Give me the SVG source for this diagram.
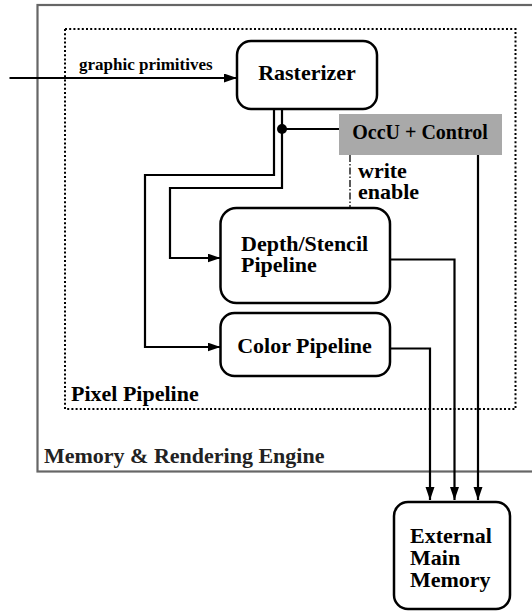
<svg xmlns="http://www.w3.org/2000/svg" width="532" height="612" viewBox="0 0 532 612">
  <style>
    .box { fill: #fff; stroke: #000; stroke-width: 2.5; }
    .lbl { font-family: "Liberation Serif", Tinos, "Times New Roman", Times, "DejaVu Serif", serif; font-weight: bold; font-size: 22px; fill: #000; }
    .small { font-size: 17px; }
    .occ { font-size: 20px; }
    .wire { fill: none; stroke: #000; stroke-width: 2.2; }
  </style>
  <defs>
    <marker id="arrow" markerUnits="userSpaceOnUse" markerWidth="14" markerHeight="10" refX="13" refY="4.5" orient="auto">
      <path d="M0,0 L13,4.5 L0,9 z" fill="#000"/>
    </marker>
  </defs>

  <rect width="532" height="612" fill="#fff"/>

  <!-- enclosing engine -->
  <g id="engine">
    <rect x="37.5" y="5" width="510" height="466.5" fill="none" stroke="#666" stroke-width="2.2"/>
    <text class="lbl" x="44" y="463" style="fill:#222">Memory &amp; Rendering Engine</text>
  </g>

  <!-- pixel pipeline region -->
  <g id="pixel-pipeline">
    <rect x="65" y="29" width="450.5" height="380" fill="none" stroke="#000" stroke-width="2" stroke-dasharray="2 2.2"/>
    <text class="lbl" x="71" y="400.5">Pixel Pipeline</text>
  </g>

  <!-- connectors -->
  <g id="connectors">
    <path class="wire" d="M9.5 78 H237" marker-end="url(#arrow)"/>
    <text class="lbl small" x="79" y="70">graphic primitives</text>
    <path class="wire" d="M274 109 V175 H145 V347 H220.5" marker-end="url(#arrow)"/>
    <path class="wire" d="M282 109 V188 H170 V258 H220.5" marker-end="url(#arrow)"/>
    <path class="wire" d="M282 129 H339"/>
    <circle cx="282" cy="129" r="5" fill="#000"/>
    <path d="M350 155 V208" fill="none" stroke="#000" stroke-width="1.3" stroke-dasharray="7 2 1.5 2"/>
    <text class="lbl" x="358" y="178">write</text>
    <text class="lbl" x="358" y="199">enable</text>
    <path class="wire" d="M478 155 V500" marker-end="url(#arrow)"/>
    <path class="wire" d="M390 259.5 H454.5 V500" marker-end="url(#arrow)"/>
    <path class="wire" d="M390 348.5 H430 V500" marker-end="url(#arrow)"/>
  </g>

  <g id="rasterizer">
    <rect class="box" x="237" y="41" width="140" height="68" rx="14"/>
    <text class="lbl" x="307" y="80" text-anchor="middle">Rasterizer</text>
  </g>

  <g id="occu-control">
    <rect x="339" y="114" width="163" height="41" fill="#a9a9a9"/>
    <text class="lbl occ" x="420" y="139" text-anchor="middle">OccU + Control</text>
  </g>

  <g id="depth-stencil">
    <rect class="box" x="220.5" y="208" width="169.5" height="95" rx="16"/>
    <text class="lbl" x="241" y="250.5">Depth/Stencil</text>
    <text class="lbl" x="241" y="272">Pipeline</text>
  </g>

  <g id="color-pipeline">
    <rect class="box" x="220.5" y="313" width="169.5" height="63" rx="14"/>
    <text class="lbl" x="304.5" y="353" text-anchor="middle">Color Pipeline</text>
  </g>

  <g id="main-memory">
    <rect class="box" x="394" y="502" width="116" height="107" rx="14"/>
    <text class="lbl" x="410" y="543">External</text>
    <text class="lbl" x="410" y="565">Main</text>
    <text class="lbl" x="410" y="587">Memory</text>
  </g>
</svg>
